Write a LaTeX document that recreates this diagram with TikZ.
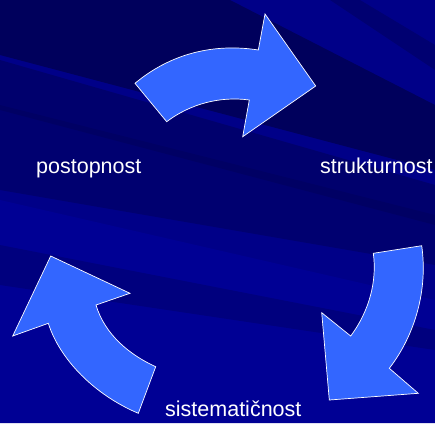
\documentclass[tikz,border=0pt]{standalone}
\usepackage{fontspec}
\setmainfont{Liberation Sans}
\definecolor{bgbase}{HTML}{000088}
\definecolor{bgdark}{HTML}{00005C}
\definecolor{bgmid}{HTML}{000070}
\definecolor{bglight}{HTML}{000094}
\definecolor{arrowfill}{HTML}{3366FF}
\tikzset{
  cyclearrow/.style={fill=arrowfill, draw=white, line width=0.7pt, line join=miter},
  lbl/.style={text=white, font=\fontsize{21.5}{24}\selectfont, anchor=base west, inner sep=0pt},
  band/.style={draw=none}
}
\begin{document}
\begin{tikzpicture}[x=1pt,y=-1pt]
\useasboundingbox (0,0) rectangle (435,423);
% background
\fill[bgbase] (0,0) rectangle (435,423);
\fill[band, bglight] (0,200) -- (435,300) -- (435,423) -- (0,423) -- cycle;
\fill[band, bgdark] (0,0) -- (230,0) -- (435,105) -- (435,170) -- (0,55) -- cycle;
\fill[band, bgmid] (0,0) -- (60,0) -- (0,0) -- cycle;
\fill[band, bgmid] (0,105) -- (435,215) -- (435,265) -- (0,190) -- cycle;
\fill[band, bgdark, opacity=0.6] (0,60) -- (435,185) -- (435,225) -- (0,110) -- cycle;
\fill[band, bgmid, opacity=0.6] (0,245) -- (435,330) -- (435,350) -- (0,285) -- cycle;
\fill[band, bgdark, opacity=0.5] (330,0) -- (360,0) -- (435,45) -- (435,70) -- cycle;
% arrows
\path[cyclearrow] (135,83.3) .. controls (175,50) and (220,44) .. (258.3,50)
  -- (265,14) -- (315.7,86) -- (242.7,136.7) -- (249.3,100)
  .. controls (220,96) and (190,104) .. (166.7,121.7) -- cycle;
\path[cyclearrow] (421.7,245.7) -- (373.3,253.3)
  .. controls (377,280) and (370,310) .. (350.7,336)
  -- (321.7,312.7) -- (329.3,400) -- (418.3,393.3) -- (389.3,368.3)
  .. controls (415,335) and (428,290) .. (421.7,245.7) -- cycle;
\path[cyclearrow] (138.3,413.3) -- (155.7,366.7)
  .. controls (130,355) and (105,335) .. (96,305)
  -- (130,293.3) -- (50.7,256) -- (12.7,336) -- (48.3,323.3)
  .. controls (60,360) and (95,395) .. (138.3,413.3) -- cycle;
% labels
\node[lbl] (post) at (36,173.3) {postopnost};
\node[lbl] (strukt) at (320,173.3) {strukturnost};
\node[lbl] (sist) at (165,416) {sistematičnost};
\end{tikzpicture}
\end{document}
